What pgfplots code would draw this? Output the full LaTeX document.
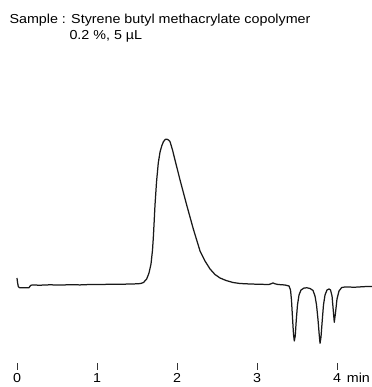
\documentclass[border=0pt]{standalone}
\usepackage{pgfplots}
\pgfplotsset{compat=1.18}
\usepackage{fontspec}
\setmainfont[FakeStretch=1.1]{Liberation Sans}
\begin{document}
\begin{tikzpicture}
\path[use as bounding box] (0,-24bp) rectangle (372bp,363bp);
\begin{axis}[
  at={(0,0)}, anchor=south west,
  width=372bp, height=363bp, scale only axis,
  xmin=-0.2125, xmax=4.4375, ymin=0, ymax=363,
  axis line style={draw=none},
  ytick=\empty,
  xtick={0,1,2,3,4},
  xtick pos=bottom,
  tick align=outside,
  major tick length=6.5bp,
  every tick/.style={draw=black!80, line width=0.8pt},
  xticklabel style={anchor=base, yshift=-13.2bp, font=\fontsize{13bp}{15bp}\selectfont},
  /pgf/number format/assume math mode=true,
  clip=false,
]
\addplot[black!90, line width=1.25pt, line join=round] coordinates {
(0.000,85.0)(0.006,81.0)(0.016,76.5)(0.031,75.3)(0.088,75.2)(0.150,75.3)
(0.169,77.5)(0.188,78.0)(0.288,77.8)(0.413,78.2)(0.538,77.9)(0.663,78.3)
(0.788,78.1)(0.913,78.5)(1.038,78.4)(1.163,78.8)(1.288,78.7)(1.413,79.0)
(1.513,79.2)(1.550,79.6)(1.581,80.5)(1.621,84.0)(1.650,90.0)(1.675,99.0)
(1.694,113.0)(1.706,128.0)(1.725,158.0)(1.744,181.0)(1.766,200.0)(1.788,211.0)
(1.809,217.0)(1.831,221.5)(1.856,223.7)(1.875,223.8)(1.894,223.0)(1.913,221.3)
(1.944,213.0)(1.975,203.0)(2.038,183.0)(2.121,158.0)(2.204,134.0)(2.288,112.0)
(2.350,102.0)(2.413,94.0)(2.475,88.5)(2.538,85.0)(2.613,82.5)(2.700,80.5)
(2.788,79.5)(2.913,79.0)(3.038,78.7)(3.150,78.5)(3.181,79.4)(3.200,80.1)
(3.225,79.2)(3.263,78.5)(3.350,78.0)(3.400,77.0)(3.419,73.0)(3.431,63.0)
(3.444,45.0)(3.456,29.0)(3.466,22.0)(3.478,27.0)(3.491,43.0)(3.506,58.0)
(3.525,68.0)(3.550,73.0)(3.588,75.0)(3.625,75.2)(3.663,74.5)(3.700,72.5)
(3.725,67.0)(3.744,58.0)(3.763,43.0)(3.778,28.0)(3.788,19.7)(3.800,26.0)
(3.816,43.0)(3.831,58.0)(3.850,68.0)(3.875,73.0)(3.900,74.0)(3.919,73.0)
(3.938,67.0)(3.953,53.0)(3.966,40.7)(3.981,50.0)(4.000,64.0)(4.025,72.0)
(4.059,75.5)(4.100,76.0)(4.225,75.8)(4.350,76.4)(4.4375,76.5)
};
\node[anchor=base west, inner sep=0pt, font=\fontsize{13bp}{15bp}\selectfont]
  at (axis cs:-0.096,339.7) {Sample : Styrene butyl methacrylate copolymer};
\node[anchor=base west, inner sep=0pt, font=\fontsize{13bp}{15bp}\selectfont]
  at (axis cs:0.654,323.7) {0.2 \%, 5 µL};
\node[anchor=base west, inner sep=0pt, font=\fontsize{13bp}{15bp}\selectfont]
  at (axis cs:4.121,-19.7) {min};
\end{axis}
\end{tikzpicture}
\end{document}
